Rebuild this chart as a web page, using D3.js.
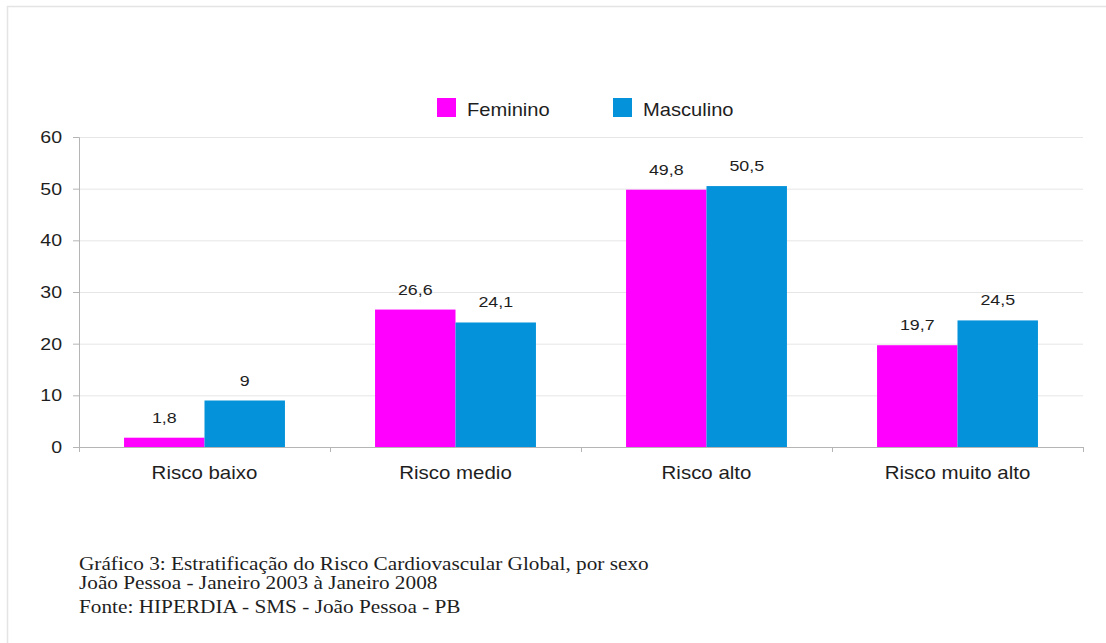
<!DOCTYPE html>
<html><head><meta charset="utf-8">
<script src="https://cdn.jsdelivr.net/npm/d3@7"></script>
<style>body{margin:0;background:#fff}svg{display:block}</style>
</head><body>
<svg id="chart" width="1106" height="643"></svg>
<script>
const categories = ["Risco baixo", "Risco medio", "Risco alto", "Risco muito alto"];
const seriesNames = ["Feminino", "Masculino"];
const feminino = [1.8, 26.6, 49.8, 19.7];
const masculino = [9, 24.1, 50.5, 24.5];
const yTicks = [0, 10, 20, 30, 40, 50, 60];
const captionLines = [
  "Gráfico 3: Estratificação do Risco Cardiovascular Global, por sexo",
  "João Pessoa - Janeiro 2003 à Janeiro 2008",
  "Fonte: HIPERDIA - SMS - João Pessoa - PB"
];
const colors = ["#FF00FF", "#0492DB"];
const fmt = v => String(v).replace(".", ",");
const SX = 1.15; // horizontal stretch of the original picture

const svg = d3.select("#chart");
const plotLeft = 79, plotRight = 1083, plotTop = 137, plotBottom = 447;

// frame
svg.append("path").attr("d", "M7.5,643 V6.5 H1106").attr("fill", "none").attr("stroke", "#e4e4e4").attr("stroke-width", 1.5);

const x = d3.scaleBand().domain(categories).range([plotLeft, plotRight]).paddingInner(0).paddingOuter(0);
const x1 = d3.scaleBand().domain(seriesNames).range([0, x.bandwidth()]).paddingInner(0).paddingOuter(0.56);
const y = d3.scaleLinear().domain([0, 60]).range([plotBottom, plotTop]);

function stext(sel, tx, ty, str, size, family, anchor) {
  return sel.append("text")
    .attr("transform", `translate(${tx},${ty}) scale(${SX},1)`)
    .attr("font-family", family || "'Liberation Sans', Arial, sans-serif")
    .attr("font-size", size)
    .attr("fill", "#1e1e1e")
    .attr("text-anchor", anchor || "start")
    .text(str);
}

// gridlines
svg.append("g").selectAll("line").data(yTicks.filter(d => d > 0)).join("line")
  .attr("x1", plotLeft).attr("x2", plotRight)
  .attr("y1", d => y(d) + 0.5).attr("y2", d => y(d) + 0.5)
  .attr("stroke", "#e6e6e6").attr("stroke-width", 1);

// y axis
const yAxis = svg.append("g").attr("transform", `translate(${plotLeft},0)`)
  .call(d3.axisLeft(y).tickValues(yTicks).tickSize(6).tickFormat(""));
yAxis.select(".domain").attr("stroke", "#b5b5b5");
yAxis.selectAll(".tick line").attr("stroke", "#b5b5b5");
yTicks.forEach(t => stext(svg, 62, y(t) + 6, String(t), 17, null, "end"));

// bars
const data = categories.map((c, i) => ({ c, vals: [feminino[i], masculino[i]] }));
const groups = svg.append("g").selectAll("g").data(data).join("g")
  .attr("transform", d => `translate(${x(d.c)},0)`);
groups.selectAll("rect").data(d => d.vals.map((v, j) => ({ v, s: seriesNames[j], j }))).join("rect")
  .attr("x", d => x1(d.s)).attr("width", x1.bandwidth())
  .attr("y", d => y(d.v)).attr("height", d => y(0) - y(d.v))
  .attr("fill", d => colors[d.j]);

// value labels
data.forEach(d => d.vals.forEach((v, j) => {
  stext(svg, x(d.c) + x1(seriesNames[j]) + x1.bandwidth() / 2, y(v) - 15, fmt(v), 15.5, null, "middle");
}));

// x axis
const xAxis = svg.append("g").attr("transform", `translate(0,${plotBottom})`)
  .call(d3.axisBottom(x).tickSize(0).tickFormat(""));
xAxis.select(".domain").attr("stroke", "#b5b5b5");
xAxis.selectAll(".tick").remove();
const bounds = categories.map(c => x(c)).concat([plotRight]);
svg.append("g").selectAll("line").data(bounds).join("line")
  .attr("x1", d => d + 0.5).attr("x2", d => d + 0.5)
  .attr("y1", plotBottom).attr("y2", plotBottom + 5).attr("stroke", "#b5b5b5");
categories.forEach(c => stext(svg, x(c) + x.bandwidth() / 2, 479, c, 17.8, null, "middle"));

// legend
const legX = [437, 613];
seriesNames.forEach((s, i) => {
  svg.append("rect").attr("x", legX[i]).attr("y", 98).attr("width", 19).attr("height", 19).attr("fill", colors[i]);
  stext(svg, legX[i] + 30, 116, s, 17.5);
});

// caption
const capY = [570, 589, 613];
captionLines.forEach((l, i) => stext(svg, 79, capY[i], l, 18.5, "'Liberation Serif', 'Times New Roman', serif"));
</script>
</body></html>
